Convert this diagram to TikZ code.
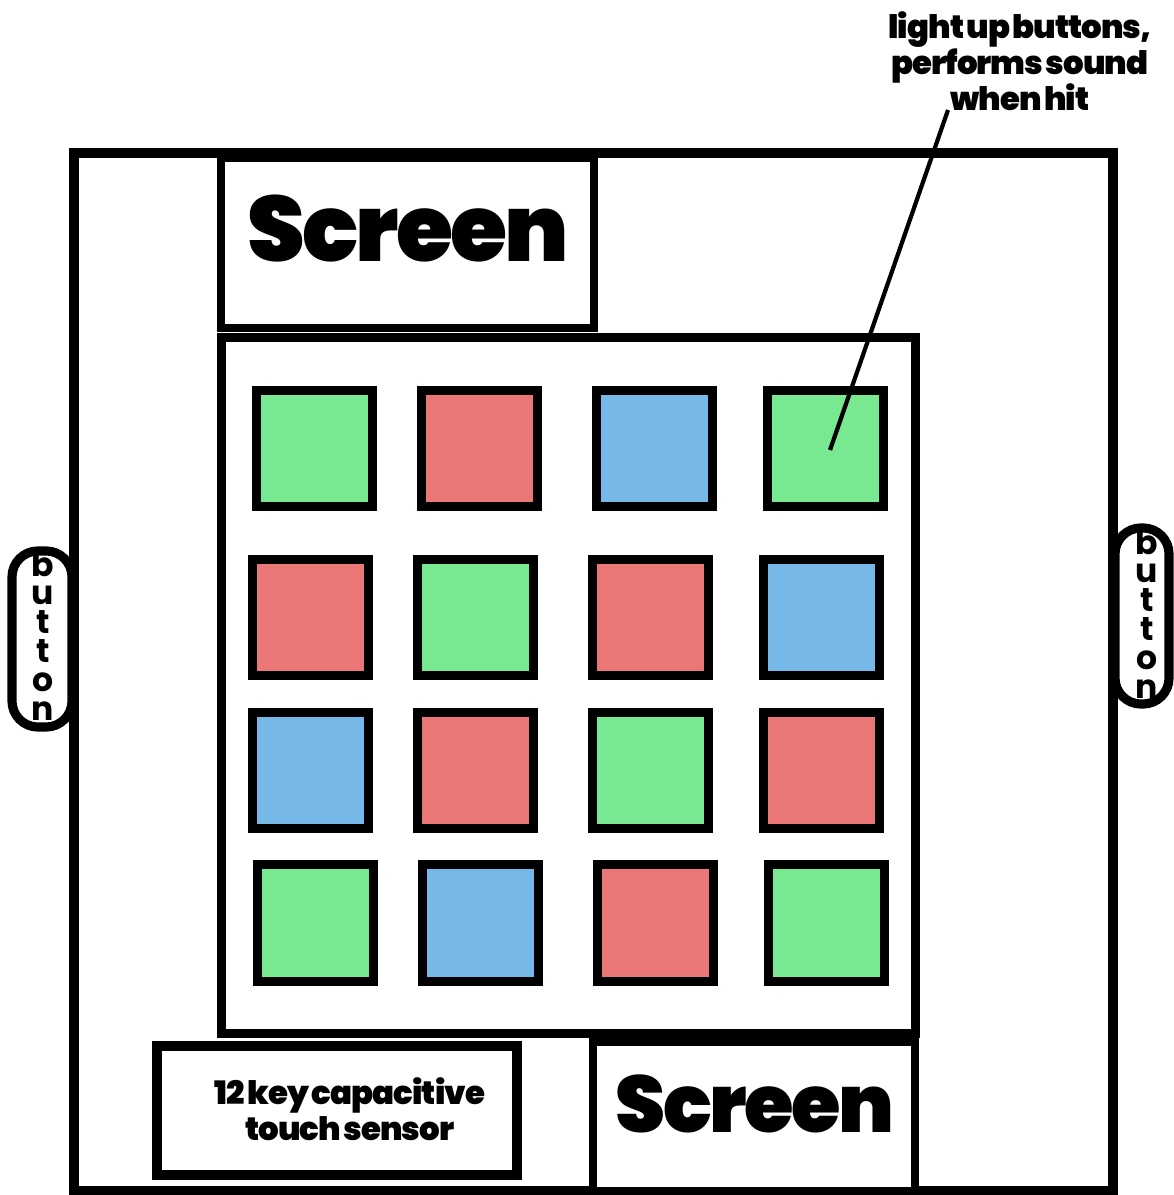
\documentclass[tikz,border=0pt]{standalone}
\usepackage{fontspec}
\setmainfont{Poppins}
\IfFontExistsTF{Poppins Black}{%
    \newfontfamily\heavyfont{Poppins Black}[LetterSpace=-3, WordSpace=0.55]%
}{%
    \newfontfamily\heavyfont{Poppins}[UprightFont={* Bold}, LetterSpace=-3, WordSpace=0.55]%
}
\usepackage{tikz}
\definecolor{padgreen}{RGB}{120,232,145}
\definecolor{padred}{RGB}{234,118,118}
\definecolor{padblue}{RGB}{118,184,232}
\tikzset{
    frameline/.style={draw=black, line width=2.85pt},
    panel/.style={draw=black, line width=2.3pt, fill=white},
    pad/.style={draw=black, line width=2.56pt, minimum size=1.16cm, inner sep=0pt},
    pill/.style={draw=black, line width=2.6pt, fill=white, rounded corners=0.26cm,
        minimum height=1.76cm, inner sep=0pt},
    btntext/.style={align=center, inner sep=0pt,
        font=\fontsize{9.4}{8.2}\selectfont\bfseries},
    bigtitle/.style={anchor=base, inner sep=0pt, font=\heavyfont\fontsize{26.3}{30}\selectfont},
    smalltitle/.style={align=center, inner sep=0pt, font=\heavyfont\fontsize{9.2}{10.2}\selectfont},
    leader/.style={line width=1.2pt}
}

\begin{document}
\begin{tikzpicture}[x=0.01cm, y=-0.01cm]
        \useasboundingbox (0,0) rectangle (1173,1195);

        % ---------------- side buttons ----------------
        \node[pill, minimum width=0.60cm] (btnLeft) at (42,639) {};
        \node[pill, minimum width=0.54cm] (btnRight) at (1142,616) {};
        \node[btntext] (btnLeftTxt) at (43,636) {b\\u\\t\\t\\o\\n};
        \node[btntext] (btnRightTxt) at (1147,614) {b\\u\\t\\t\\o\\n};

        % ---------------- outer frame ----------------
        \draw[frameline] (74,153) rectangle (1113,1191);

        % ---------------- top screen ----------------
        \draw[panel] (221,158) rectangle (594,328);
        \node[bigtitle] (screenTop) at (408,262) {Screen};

        % ---------------- pad grid ----------------
        \draw[panel, line width=2.56pt] (221,337.5) rectangle (915,1033.5);

        % centers, row by row
        \foreach \x/\y/\col/\nm in {
            314.5/448.5/padgreen/padAa, 479.5/448.5/padred/padAb,
            654.5/448.5/padblue/padAc,  825.5/448.5/padgreen/padAd,
            310.5/617.5/padred/padBa,   475.5/617.5/padgreen/padBb,
            650.5/617.5/padred/padBc,   821.5/617.5/padblue/padBd,
            310.5/770.5/padblue/padCa,  475.5/770.5/padred/padCb,
            650.5/770.5/padgreen/padCc, 821.5/770.5/padred/padCd,
            315.5/923/padgreen/padDa,   480.5/923/padblue/padDb,
            655.5/923/padred/padDc,     826.5/923/padgreen/padDd} {
            \node[pad, fill=\col] (\nm) at (\x,\y) {};
        }

        % ---------------- bottom panels ----------------
        \draw[panel, line width=2.85pt] (157,1046) rectangle (517,1175);
        \node[smalltitle] (sensorTxt) at (350,1109) {12 key capacitive\\touch sensor};

        \draw[panel] (593,1042) rectangle (915,1191);
        \node[bigtitle, font=\heavyfont\fontsize{22.8}{26}\selectfont] (screenBottom) at (755,1132) {Screen};

        % ---------------- annotation ----------------
        \node[smalltitle] (noteTxt) at (1020,61) {light up buttons,\\performs sound\\when hit};
        \coordinate (noteTail) at (948,110);
        \coordinate (hitPt) at (830,450);
        \draw[leader] (noteTail) -- (hitPt);
    \end{tikzpicture}
\end{document}
